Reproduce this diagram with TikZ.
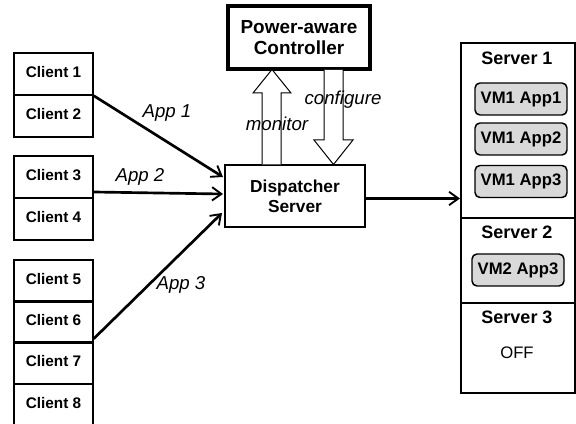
\documentclass[tikz,border=0pt]{standalone}
\usepackage{fontspec}
\setmainfont{Liberation Sans}
\usetikzlibrary{arrows.meta,calc}
\definecolor{vmgray}{HTML}{D9D9D9}
\newcommand{\cltxt}[1]{\raisebox{2.5pt}{#1}\hspace{4pt}}
\begin{document}
\begin{tikzpicture}[x=0.75pt,y=-0.75pt,
  client/.style={draw,line width=1.1pt,minimum width=59.25pt,minimum height=31.5pt,inner sep=0pt,
    font=\fontsize{11.5}{13}\selectfont\bfseries},
  ctrlbox/.style={draw,line width=3pt,minimum width=106.5pt,minimum height=47.25pt,inner sep=0pt,align=center,
    font=\fontsize{14.2}{16}\selectfont\bfseries},
  dispbox/.style={draw,line width=1.6pt,minimum width=105pt,minimum height=46.5pt,inner sep=0pt,align=center,
    font=\fontsize{13}{15}\selectfont\bfseries},
  srvbox/.style={draw,line width=1.5pt,minimum width=85.5pt,inner sep=0pt},
  srvlabel/.style={font=\fontsize{13.5}{15}\selectfont\bfseries,inner sep=0pt},
  vmbox/.style={draw,line width=1.1pt,rounded corners=3.75pt,fill=vmgray,minimum width=69pt,minimum height=24pt,
    inner sep=0pt,font=\fontsize{12.5}{14}\selectfont\bfseries},
  applabel/.style={font=\fontsize{14}{16}\selectfont\itshape,inner sep=0pt},
  app/.style={line width=2pt,-{Straight Barb[length=7pt,width=10pt,line width=1.4pt]}},
  block/.style={draw,line width=0.75pt,fill=white}
]
\useasboundingbox (0,0) rectangle (576,424);

% clients
\node[client] (c1) at (53.5,74) {\cltxt{Client 1}};
\node[client] (c2) at (53.5,116) {\cltxt{Client 2}};
\node[client] (c3) at (53.5,177) {\cltxt{Client 3}};
\node[client] (c4) at (53.5,219) {\cltxt{Client 4}};
\node[client] (c5) at (53.5,281) {\cltxt{Client 5}};
\node[client] (c6) at (53.5,322) {\cltxt{Client 6}};
\node[client] (c7) at (53.5,363) {\cltxt{Client 7}};
\node[client] (c8) at (53.5,405) {\cltxt{Client 8}};

% controller and dispatcher
\node[ctrlbox] (ctrl) at (299,37.5) {Power-aware\\Controller};
\node[dispbox] (disp) at (295,196) {Dispatcher\\Server};

% servers
\node[srvbox,minimum height=131.25pt] (s1) at (518,130.5) {};
\node[srvbox,minimum height=63.75pt] (s2) at (518,260.5) {};
\node[srvbox,minimum height=67.5pt] (s3) at (518,348) {};
\node[srvlabel] (s1l) at (517,58) {Server 1};
\node[srvlabel] (s2l) at (517,232) {Server 2};
\node[srvlabel] (s3l) at (517,317) {Server 3};
\node[font=\fontsize{12.5}{14}\selectfont,inner sep=0pt] (off) at (517,353) {OFF};
\node[vmbox] (v1) at (521,99) {VM1 App1};
\node[vmbox] (v2) at (521,139) {VM1 App2};
\node[vmbox] (v3) at (521,181.5) {VM1 App3};
\node[vmbox] (v4) at (518,270) {VM2 App3};

% block arrows
\draw[block] (262,164.5) -- (262,93) -- (253,93) -- (272,69.5) -- (291,93) -- (281,93) -- (281,164.5);
\draw[block] (324,70) -- (324,140) -- (314,140) -- (333.5,164.5) -- (353,140) -- (343,140) -- (343,70);
\node[applabel] (mon) at (277,124) {monitor};
\node[applabel] (conf) at (343,100) {configure};

% app connectors
\coordinate (t1) at (223,177);
\coordinate (t2) at (223,194);
\coordinate (t3) at (222,213);
\coordinate (a2s) at ($(c3.east)+(0,15)$);
\coordinate (a3s) at ($(c6.south east)+(0,-5)$);
\draw[app] (c1.south east) -- (t1);
\draw[app] (a2s) -- (t2);
\draw[app] (a3s) -- (t3);
\node[applabel] (l1) at (167,113) {App 1};
\node[applabel] (l2) at (140,177) {App 2};
\node[applabel] (l3) at (181,285) {App 3};

% dispatcher to servers
\coordinate (dsrc) at ($(disp.east)+(0,2.5)$);
\draw[app,line width=2.2pt] (dsrc) -- (s1.west |- dsrc);
\end{tikzpicture}
\end{document}
